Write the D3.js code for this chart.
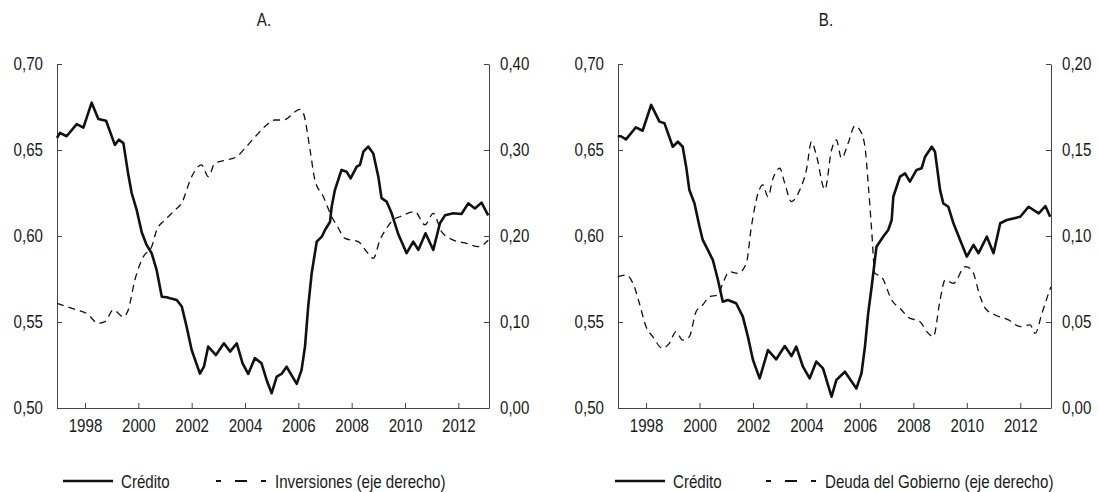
<!DOCTYPE html>
<html>
<head>
<meta charset="utf-8">
<script src="https://cdn.jsdelivr.net/npm/d3@7"></script>
<style>
body { margin: 0; background: #fff; }
svg text { font-family: "Liberation Sans", Arial, sans-serif; font-size: 18px; fill: #1a1a1a; }
.domain, .tick line { stroke: #444; }
</style>
</head>
<body>
<svg width="1099" height="492"></svg>
<script>
// x ticks and y tick labels
var anios = [1998, 2000, 2002, 2004, 2006, 2008, 2010, 2012];
var ticksIzq = [0.50, 0.55, 0.60, 0.65, 0.70];
var ticksDerA = [0.00, 0.10, 0.20, 0.30, 0.40];
var ticksDerB = [0.00, 0.05, 0.10, 0.15, 0.20];

// series: [year, value]
var creditoA = [[1996.95,0.657],[1997.06,0.660],[1997.31,0.658],[1997.69,0.665],[1997.94,0.663],[1998.25,0.6775],[1998.5,0.668],[1998.79,0.667],[1999.12,0.653],[1999.27,0.656],[1999.44,0.654],[1999.62,0.636],[1999.75,0.625],[1999.94,0.615],[2000.13,0.602],[2000.31,0.5948],[2000.5,0.590],[2000.69,0.580],[2000.88,0.5647],[2001.06,0.5644],[2001.19,0.5638],[2001.44,0.5628],[2001.63,0.559],[2001.81,0.5473],[2002.0,0.5337],[2002.31,0.520],[2002.46,0.524],[2002.62,0.5357],[2002.91,0.5308],[2003.21,0.5376],[2003.44,0.5328],[2003.69,0.5376],[2003.91,0.526],[2004.12,0.5198],[2004.37,0.529],[2004.62,0.526],[2004.81,0.5163],[2005.0,0.5086],[2005.19,0.5182],[2005.37,0.5198],[2005.56,0.524],[2005.75,0.519],[2005.94,0.514],[2006.12,0.522],[2006.25,0.5357],[2006.37,0.5589],[2006.5,0.5783],[2006.69,0.5967],[2006.88,0.5996],[2007.0,0.6035],[2007.19,0.6083],[2007.25,0.617],[2007.37,0.6267],[2007.62,0.6384],[2007.81,0.6374],[2007.96,0.6335],[2008.19,0.6403],[2008.31,0.6413],[2008.44,0.649],[2008.62,0.652],[2008.81,0.648],[2009.0,0.6345],[2009.12,0.622],[2009.31,0.620],[2009.5,0.6132],[2009.75,0.601],[2010.06,0.590],[2010.31,0.5967],[2010.5,0.5919],[2010.77,0.6016],[2011.06,0.5919],[2011.31,0.6074],[2011.5,0.612],[2011.81,0.6132],[2012.12,0.6128],[2012.37,0.619],[2012.62,0.616],[2012.87,0.6194],[2013.12,0.612]];
var inversionesA = [[1996.95,0.1217],[1997.69,0.114],[1998.06,0.110],[1998.5,0.0985],[1998.75,0.1004],[1999.06,0.114],[1999.44,0.106],[1999.62,0.114],[1999.87,0.1488],[2000.19,0.176],[2000.5,0.1876],[2000.69,0.207],[2001.0,0.2186],[2001.37,0.230],[2001.62,0.238],[2002.0,0.269],[2002.37,0.2826],[2002.62,0.269],[2002.87,0.2845],[2003.31,0.2884],[2003.69,0.2922],[2004.0,0.302],[2004.44,0.3174],[2004.81,0.329],[2005.12,0.3349],[2005.44,0.3349],[2006.06,0.3473],[2006.19,0.3427],[2006.44,0.300],[2006.62,0.2651],[2006.94,0.2457],[2007.25,0.2224],[2007.45,0.212],[2007.75,0.1973],[2008.25,0.1934],[2008.56,0.1818],[2008.81,0.174],[2009.06,0.1953],[2009.31,0.209],[2009.55,0.2186],[2009.81,0.2224],[2010.37,0.2283],[2010.75,0.213],[2011.06,0.2264],[2011.37,0.205],[2011.81,0.1953],[2012.31,0.1915],[2012.75,0.1876],[2013.0,0.1915],[2013.12,0.195]];
var creditoB = [[1996.94,0.658],[1997.06,0.658],[1997.25,0.6562],[1997.62,0.6632],[1997.87,0.6612],[1998.19,0.6762],[1998.5,0.6665],[1998.69,0.6655],[1999.0,0.6519],[1999.19,0.6548],[1999.37,0.6519],[1999.5,0.6403],[1999.62,0.6267],[1999.81,0.619],[2000.0,0.6054],[2000.12,0.5977],[2000.31,0.5919],[2000.5,0.586],[2000.69,0.5744],[2000.87,0.5618],[2001.06,0.5628],[2001.37,0.5609],[2001.62,0.5531],[2001.81,0.5415],[2002.0,0.5279],[2002.25,0.5172],[2002.56,0.5337],[2002.87,0.5283],[2003.19,0.536],[2003.44,0.5302],[2003.62,0.5357],[2003.87,0.524],[2004.12,0.5172],[2004.37,0.527],[2004.62,0.523],[2004.94,0.5066],[2005.12,0.5163],[2005.44,0.5211],[2005.87,0.5114],[2006.06,0.5202],[2006.19,0.5357],[2006.31,0.555],[2006.44,0.5705],[2006.62,0.5938],[2006.87,0.5996],[2007.06,0.6035],[2007.19,0.6093],[2007.25,0.6228],[2007.5,0.6345],[2007.69,0.6364],[2007.87,0.6316],[2008.12,0.6384],[2008.31,0.6394],[2008.44,0.6461],[2008.69,0.6519],[2008.81,0.649],[2009.0,0.6267],[2009.12,0.619],[2009.31,0.617],[2009.5,0.6074],[2009.75,0.5977],[2010.0,0.588],[2010.25,0.5948],[2010.44,0.590],[2010.75,0.5996],[2011.0,0.590],[2011.25,0.6074],[2011.5,0.6093],[2012.0,0.6112],[2012.31,0.617],[2012.69,0.6132],[2012.94,0.6174],[2013.12,0.6112]];
var deudaB = [[1996.94,0.0763],[1997.25,0.0773],[1997.56,0.0705],[1997.75,0.0609],[1998.0,0.0473],[1998.25,0.0415],[1998.62,0.0347],[1998.87,0.0376],[1999.12,0.0444],[1999.37,0.0395],[1999.62,0.0415],[1999.87,0.056],[2000.12,0.0599],[2000.37,0.0647],[2000.69,0.0657],[2000.87,0.0725],[2001.12,0.0792],[2001.44,0.0783],[2001.75,0.0841],[2001.94,0.1054],[2002.19,0.1248],[2002.37,0.1297],[2002.56,0.1228],[2002.75,0.1335],[2003.0,0.1394],[2003.19,0.1306],[2003.44,0.120],[2003.75,0.1267],[2004.0,0.1384],[2004.19,0.1548],[2004.37,0.147],[2004.69,0.127],[2004.94,0.150],[2005.12,0.1558],[2005.31,0.1452],[2005.56,0.1539],[2005.81,0.164],[2006.0,0.1616],[2006.19,0.1519],[2006.31,0.1306],[2006.44,0.1035],[2006.56,0.0783],[2006.81,0.0763],[2007.19,0.0628],[2007.56,0.057],[2007.81,0.0527],[2008.25,0.0502],[2008.5,0.0444],[2008.75,0.0415],[2009.0,0.0628],[2009.19,0.0744],[2009.5,0.0725],[2009.94,0.0822],[2010.19,0.0802],[2010.5,0.0647],[2010.69,0.058],[2011.06,0.0541],[2011.56,0.0512],[2012.0,0.0473],[2012.37,0.0483],[2012.56,0.0434],[2012.81,0.055],[2013.06,0.0667],[2013.15,0.0705]];

var svg = d3.select("svg");
var yTop = 64, yBottom = 408;
var sx = 0.84; // horizontal squeeze to imitate a condensed face
var coma = function(d) { return d3.format(".2f")(d).replace(".", ","); };

function texto(x, y, str, anchor) {
    return svg.append("text")
        .attr("transform", "translate(" + x + "," + y + ") scale(" + sx + ",1)")
        .attr("text-anchor", anchor || "start")
        .text(str);
}

function squeeze(g) {
    g.selectAll(".tick text").each(function() {
        var t = d3.select(this);
        t.attr("x", (+t.attr("x") || 0) / sx).attr("transform", "scale(" + sx + ",1)");
    });
    g.selectAll(".tick text").style("font-size", "18px").style("fill", "#1a1a1a")
        .style("font-family", '"Liberation Sans", Arial, sans-serif');
}

function panel(opt) {
    var x = d3.scaleLinear().domain([1996.95, 2013.15]).range([opt.left, opt.right]);
    var yL = d3.scaleLinear().domain([0.50, 0.70]).range([yBottom, yTop]);
    var yR = d3.scaleLinear().domain([0, opt.maxDer]).range([yBottom, yTop]);

    texto(opt.tx, 26, opt.titulo, "middle");

    var ax = svg.append("g").attr("transform", "translate(0," + yBottom + ")")
        .call(d3.axisBottom(x).tickValues(anios).tickFormat(d3.format("d")).tickSizeInner(-5).tickSizeOuter(0).tickPadding(11));
    squeeze(ax);

    var al = svg.append("g").attr("transform", "translate(" + opt.left + ",0)")
        .call(d3.axisLeft(yL).tickValues(ticksIzq).tickFormat(coma).tickSizeInner(-5).tickSizeOuter(0).tickPadding(14));
    squeeze(al);

    var ar = svg.append("g").attr("transform", "translate(" + opt.right + ",0)")
        .call(d3.axisRight(yR).tickValues(opt.ticksDer).tickFormat(coma).tickSizeInner(-5).tickSizeOuter(0).tickPadding(11));
    squeeze(ar);

    var lineaDer = d3.line()
        .x(function(d) { return x(d[0]); })
        .y(function(d) { return yR(d[1]); })
        .curve(d3.curveMonotoneX);
    svg.append("path").datum(opt.serieDer)
        .attr("d", lineaDer)
        .attr("fill", "none").attr("stroke", "#111")
        .attr("stroke-width", 1.3).attr("stroke-dasharray", "7,5");

    var lineaIzq = d3.line()
        .x(function(d) { return x(d[0]); })
        .y(function(d) { return yL(d[1]); });
    svg.append("path").datum(opt.serieIzq)
        .attr("d", lineaIzq)
        .attr("fill", "none").attr("stroke", "#111")
        .attr("stroke-width", 2.6).attr("stroke-linejoin", "round");

    // legend
    svg.append("line").attr("x1", opt.leg[0]).attr("x2", opt.leg[0] + 50)
        .attr("y1", 481).attr("y2", 481).attr("stroke", "#111").attr("stroke-width", 2.6);
    texto(opt.leg[0] + 58, 488, "Crédito");
    svg.append("line").attr("x1", opt.leg[1]).attr("x2", opt.leg[1] + 50)
        .attr("y1", 481).attr("y2", 481).attr("stroke", "#111").attr("stroke-width", 2.2)
        .attr("stroke-dasharray", "5,14,12,14,5,100");
    texto(opt.leg[1] + 59, 488, opt.nombreDer);
}

panel({ left: 57, right: 489, tx: 264, titulo: "A.", maxDer: 0.40, ticksDer: ticksDerA,
        serieIzq: creditoA, serieDer: inversionesA, leg: [63, 216], nombreDer: "Inversiones (eje derecho)" });
panel({ left: 618, right: 1051, tx: 826, titulo: "B.", maxDer: 0.20, ticksDer: ticksDerB,
        serieIzq: creditoB, serieDer: deudaB, leg: [615, 766], nombreDer: "Deuda del Gobierno (eje derecho)" });
</script>
</body>
</html>
